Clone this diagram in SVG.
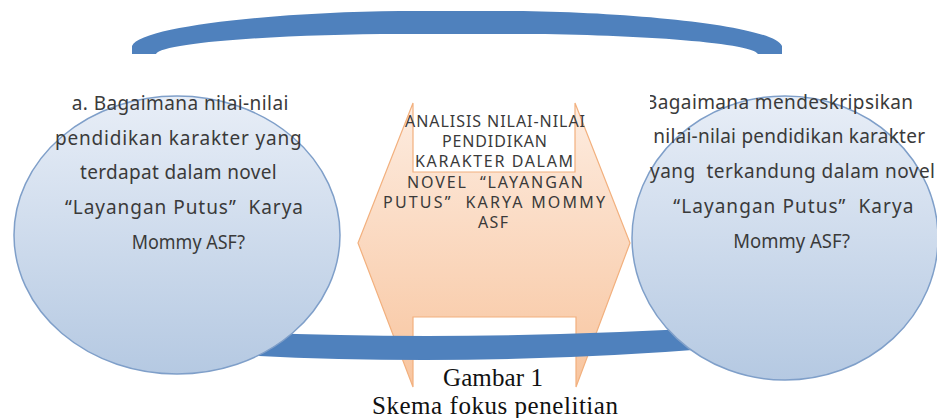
<svg xmlns="http://www.w3.org/2000/svg" width="937" height="418" viewBox="0 0 937 418">
  <defs>
    <linearGradient id="gBlue" x1="0" y1="0" x2="0" y2="1">
      <stop offset="0" stop-color="#e8eef7"/>
      <stop offset="1" stop-color="#b5c9e2"/>
    </linearGradient>
    <linearGradient id="gOrange" x1="0" y1="0" x2="0" y2="1">
      <stop offset="0" stop-color="#fdece0"/>
      <stop offset="1" stop-color="#f8c59f"/>
    </linearGradient>
    <clipPath id="clipR1">
      <rect x="650" y="80" width="287" height="45"/>
    </clipPath>
    <style>
      .band { fill: #4f81bd; }
      .circle { fill: url(#gBlue); stroke: #7f9fc9; stroke-width: 1.5; }
      .shape { fill: url(#gOrange); stroke: #f2b07e; stroke-width: 1.2; }
      .q { font-family: "Noto Sans", "Open Sans", "DejaVu Sans", sans-serif; font-size: 19px; fill: #3a3a3a; white-space: pre; }
      .c { font-family: "Noto Sans", "Open Sans", "DejaVu Sans", sans-serif; font-size: 16px; fill: #3a3a3a; text-anchor: middle; white-space: pre; }
      .cap { font-family: "Liberation Serif", "Times New Roman", serif; font-size: 25px; fill: #111; text-anchor: middle; }
    </style>
  </defs>
  <rect width="937" height="418" fill="#ffffff"/>

  <g id="center-node">
    <path class="shape" d="M413,103 L413,172 L575,172 L575,103 L630,243 L576,387 L576,317 L413,317 L413,387 L358,243 Z"/>
    <text class="c" x="495" y="127" textLength="180">ANALISIS NILAI-NILAI</text>
    <text class="c" x="494.5" y="147" textLength="105">PENDIDIKAN</text>
    <text class="c" x="494" y="167" textLength="158">KARAKTER DALAM</text>
    <text class="c" x="495" y="187.5" textLength="176">NOVEL  “LAYANGAN</text>
    <text class="c" x="494" y="208" textLength="222">PUTUS”  KARYA MOMMY</text>
    <text class="c" x="493" y="228" textLength="30">ASF</text>
  </g>

  <g id="connectors">
    <path class="band" d="M132,54 L132,46 C140,26 280,12 400,11 L514,11 C634,12 774,26 782,46 L782,54 L758,54 C752,42 624,34 514,34 L400,34 C290,34 162,42 156,54 Z"/>
    <path class="band" d="M240,332 Q470,342 720,327 L720,348 Q470,368 240,355 Z"/>
  </g>

  <g id="left-node">
    <ellipse class="circle" cx="177" cy="235" rx="163" ry="139"/>
    <text class="q" x="71.7" y="110" textLength="216.7">a. Bagaimana nilai-nilai</text>
    <text class="q" x="55" y="144.7" textLength="246.7">pendidikan karakter yang</text>
    <text class="q" x="80" y="179.3" textLength="196.7">terdapat dalam novel</text>
    <text class="q" x="65" y="214" textLength="238">“Layangan Putus”  Karya</text>
    <text class="q" x="131.7" y="248.6" textLength="113.3" lengthAdjust="spacingAndGlyphs">Mommy ASF?</text>
  </g>

  <g id="right-node">
    <ellipse class="circle" cx="785" cy="238" rx="153" ry="142"/>
    <text class="q" x="645" y="108.5" textLength="268" clip-path="url(#clipR1)">Bagaimana mendeskripsikan</text>
    <text class="q" x="653.3" y="143.3" textLength="271.7">nilai-nilai pendidikan karakter</text>
    <text class="q" x="650" y="178" textLength="285">yang  terkandung dalam novel</text>
    <text class="q" x="673.3" y="212.8" textLength="240">“Layangan Putus”  Karya</text>
    <text class="q" x="733.3" y="247.5" textLength="116.7" lengthAdjust="spacingAndGlyphs">Mommy ASF?</text>
  </g>

  <g id="caption">
    <text class="cap" x="493" y="386" textLength="100">Gambar 1</text>
    <text class="cap" x="495" y="414" textLength="246">Skema fokus penelitian</text>
  </g>
</svg>
